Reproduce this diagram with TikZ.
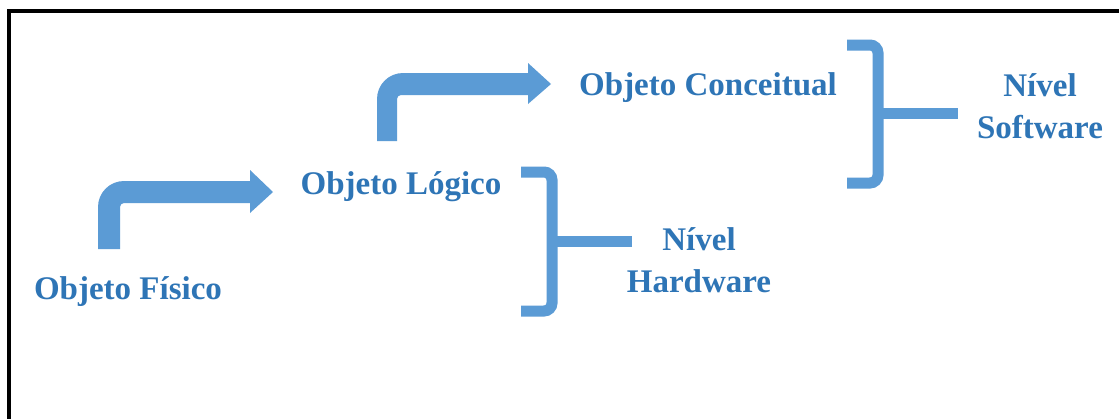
\documentclass[tikz,border=0pt]{standalone}
\usepackage{fontspec}
\setmainfont{Liberation Serif}
\definecolor{txtblue}{HTML}{2E75B6}
\definecolor{shpblue}{HTML}{5B9BD5}
\begin{document}
\begin{tikzpicture}[x=0.5pt,y=-0.5pt,
  lbl/.style={text=txtblue,font=\fontsize{16.5}{21}\selectfont\bfseries,inner sep=0pt,align=center},
  bracket/.style={draw=shpblue,line width=5.5pt,rounded corners=4pt},
  bentarrow/.style={fill=shpblue}]
\clip (0,0) rectangle (1119,418);
\fill[white] (0,0) rectangle (1119,418);
\draw[line width=2pt] (9,10.5) rectangle (1140,440);
% texts
\node[lbl,anchor=base] (fisico) at (128,299) {Objeto Físico};
\node[lbl,anchor=base] (logico) at (401,194) {Objeto Lógico};
\node[lbl,anchor=base] (conceitual) at (708,95) {Objeto Conceitual};
\node[lbl,anchor=base] (hw) at (699,292) {Nível\\Hardware};
\node[lbl,anchor=base] (sw) at (1040,138) {Nível\\Software};
% bent arrows
\fill[bentarrow] (98,249) [rounded corners=13pt] -- (98,181) [sharp corners] -- (250,181) -- (250,170) -- (273,192) -- (250,213) -- (250,203) [rounded corners=2pt] -- (120,203) [sharp corners] -- (120,249) -- cycle;
\fill[bentarrow] (377,141) [rounded corners=13pt] -- (377,73) [sharp corners] -- (528,73) -- (528,63) -- (551,84) -- (528,104) -- (528,95) [rounded corners=2pt] -- (397,95) [sharp corners] -- (397,141) -- cycle;
% brackets
\draw[bracket] (521,172) -| (552,311) -- (521,311);
\draw[bracket,sharp corners] (552,241) -- (632,241);
\draw[bracket] (847,45) -| (878,183) -- (847,183);
\draw[bracket,sharp corners] (878,113) -- (958,113);
\end{tikzpicture}
\end{document}
